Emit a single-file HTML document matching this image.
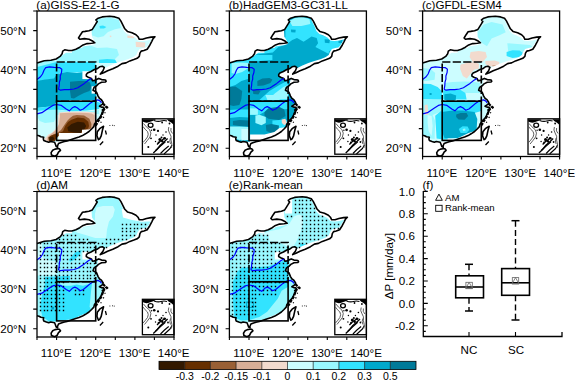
<!DOCTYPE html>
<html><head><meta charset="utf-8"><style>
html,body{margin:0;padding:0;background:#fff;}
svg{display:block;}
text{font-family:"Liberation Sans",sans-serif;font-size:11.6px;fill:#000;}
</style></head><body>
<svg width="575" height="380" viewBox="0 0 575 380">
<rect width="575" height="380" fill="#fff"/>
<defs>
<clipPath id="land"><polygon points="0.0,52.0 7.3,49.7 13.9,49.3 19.1,48.0 23.1,45.4 25.1,42.8 25.7,40.1 27.7,38.8 31.6,39.5 34.9,39.5 38.9,38.2 42.8,36.2 46.1,33.9 50.1,32.6 54.7,32.2 57.9,31.8 56.0,30.3 52.0,28.3 47.4,27.6 42.8,28.3 41.5,27.0 43.5,23.7 45.5,20.8 48.1,20.4 52.0,19.7 55.3,18.4 56.6,16.4 58.6,13.2 60.2,10.5 58.9,8.9 61.2,7.2 65.2,5.9 69.4,5.5 72.7,5.3 77.9,5.9 81.9,7.2 83.8,9.9 85.8,13.8 87.8,17.8 90.4,20.4 95.0,21.7 99.0,23.7 101.0,25.7 102.3,28.3 105.6,28.3 109.5,27.0 114.1,26.1 118.0,25.7 116.1,27.6 114.8,30.3 112.8,34.2 110.2,38.2 106.9,39.5 104.2,40.1 102.9,42.1 102.3,45.4 100.2,47.3 96.9,48.6 92.9,49.9 89.0,51.9 85.0,52.6 81.1,55.2 75.8,57.8 70.6,59.8 66.6,61.8 63.3,63.1 66.0,59.8 67.3,56.5 65.3,55.2 62.7,55.8 60.0,57.8 57.4,58.5 54.0,60.5 50.5,62.0 49.3,63.5 49.3,65.1 51.3,66.2 54.4,67.4 55.6,69.8 57.9,69.4 59.9,68.2 61.8,67.4 64.6,68.6 68.5,69.0 69.2,70.3 68.5,71.0 64.6,71.3 61.4,72.9 59.9,74.5 57.1,76.4 56.0,79.2 59.5,81.1 61.1,85.1 62.6,87.5 64.4,88.7 66.2,91.5 65.3,93.3 62.5,95.2 64.4,96.1 66.5,96.4 67.1,98.0 65.3,98.9 66.2,100.7 64.4,103.5 63.5,105.5 62.5,107.1 60.7,108.8 59.5,110.5 57.5,112.9 56.8,115.6 54.6,118.0 52.0,120.5 48.5,122.8 45.5,124.6 42.0,126.0 38.0,127.3 33.6,128.8 30.0,130.0 26.5,130.7 23.5,131.7 21.5,132.5 20.4,135.2 20.7,136.4 19.2,135.6 18.4,133.3 17.6,131.3 13.7,130.5 11.7,131.3 9.4,130.5 6.7,129.4 6.3,127.8 6.7,126.2 3.9,125.8 2.0,124.7 0.0,124.3"/></clipPath>
<pattern id="dots" patternUnits="userSpaceOnUse" x="2.49" y="0.62" width="3.914" height="3.92"><rect width="1.25" height="1.25" fill="#000"/></pattern>
<g id="coast" fill="none" stroke="#000" stroke-width="1.6" stroke-linejoin="round">
<polyline points="0.0,52.0 7.3,49.7 13.9,49.3 19.1,48.0 23.1,45.4 25.1,42.8 25.7,40.1 27.7,38.8 31.6,39.5 34.9,39.5 38.9,38.2 42.8,36.2 46.1,33.9 50.1,32.6 54.7,32.2 57.9,31.8 56.0,30.3 52.0,28.3 47.4,27.6 42.8,28.3 41.5,27.0 43.5,23.7 45.5,20.8 48.1,20.4 52.0,19.7 55.3,18.4 56.6,16.4 58.6,13.2 60.2,10.5 58.9,8.9 61.2,7.2 65.2,5.9 69.4,5.5 72.7,5.3 77.9,5.9 81.9,7.2 83.8,9.9 85.8,13.8 87.8,17.8 90.4,20.4 95.0,21.7 99.0,23.7 101.0,25.7 102.3,28.3 105.6,28.3 109.5,27.0 114.1,26.1 118.0,25.7 116.1,27.6 114.8,30.3 112.8,34.2 110.2,38.2 106.9,39.5 104.2,40.1 102.9,42.1 102.3,45.4 100.2,47.3 96.9,48.6 92.9,49.9 89.0,51.9 85.0,52.6 81.1,55.2 75.8,57.8 70.6,59.8 66.6,61.8 63.3,63.1 66.0,59.8 67.3,56.5 65.3,55.2 62.7,55.8 60.0,57.8 57.4,58.5 54.0,60.5 50.5,62.0 49.3,63.5 49.3,65.1 51.3,66.2 54.4,67.4 55.6,69.8 57.9,69.4 59.9,68.2 61.8,67.4 64.6,68.6 68.5,69.0 69.2,70.3 68.5,71.0 64.6,71.3 61.4,72.9 59.9,74.5 57.1,76.4 56.0,79.2 59.5,81.1 61.1,85.1 62.6,87.5 64.4,88.7 66.2,91.5 65.3,93.3 62.5,95.2 64.4,96.1 66.5,96.4 67.1,98.0 65.3,98.9 66.2,100.7 64.4,103.5 63.5,105.5 62.5,107.1 60.7,108.8 59.5,110.5 57.5,112.9 56.8,115.6 54.6,118.0 52.0,120.5 48.5,122.8 45.5,124.6 42.0,126.0 38.0,127.3 33.6,128.8 30.0,130.0 26.5,130.7 23.5,131.7 21.5,132.5 20.4,135.2 20.7,136.4 19.2,135.6 18.4,133.3 17.6,131.3 13.7,130.5 11.7,131.3 9.4,130.5 6.7,129.4 6.3,127.8 6.7,126.2 3.9,125.8 2.0,124.7 0.0,124.3"/>
<polygon points="14.1,141.6 14.5,144.0 17.6,145.2 20.0,144.0 21.5,141.2 23.5,139.3 22.3,137.7 20.4,137.7 18.0,138.1 15.7,139.3"/>
<polygon points="66.6,115.3 65.4,119.3 64.2,124.8 62.7,127.9 61.5,128.7 59.9,124.8 60.3,120.8 62.7,117.7 65.0,116.1"/>
<path d="M68.4,119.5 L69.4,123.5 M62.9,134 L66.2,130.5 M68,95.6 L70,96.8 M67.5,101.5 L68.5,102 M66,106 L67,106.8 M63.5,111 L64.5,111.5" stroke-width="1.3"/>
<path d="M72.5,114.5h0.8 M75,114.3h0.8 M76.8,114.6h0.8" stroke-width="1"/>
<path d="M66,92.5 L68.5,95.3 L70.3,96.4 L67.3,98 L65.6,101 L64.8,104.5 L63,107.5 L61.2,110.2 L59.7,113 L57.6,115.6" stroke-width="2.2" stroke-dasharray="3,1.2"/>
</g>
<g id="rivers" fill="none" stroke="#0000ff" stroke-width="1.2" stroke-linejoin="round">
<polyline points="0.0,68.5 3.2,66.1 5.5,63.0 7.1,59.0 8.7,56.6 12.6,55.8 17.4,56.3 22.5,56.6 24.8,58.3 24.5,61.5 23.3,65.0 23.3,68.2 22.4,71.2 22.2,74.6 21.6,78.2 23.5,79.2 27.4,78.7 32.0,78.6 37.0,78.0 40.8,76.8 42.7,75.6 47.4,72.4 51.3,69.3 54.5,67.4"/>
<polyline points="0.0,102.9 4.9,101.7 8.5,99.2 12.2,96.8 15.8,94.4 19.5,93.5 24.4,94.4 29.2,98.0 32.3,99.8 35.3,96.8 37.8,95.6 40.2,96.8 43.2,99.2 46.3,98.0 49.9,95.0 53.6,91.9 57.2,89.5 60.9,88.9 63.3,90.1 64.5,91.9"/>
</g>
<g id="inset">
<rect x="105.4" y="107.8" width="31.6" height="35.4" fill="#fff" stroke="#000" stroke-width="1.3"/>
<path d="M105.6,108.3 L105.6,110.5 Q108,112 111,111.5 Q114,110.5 117,109.6 L119,108.3 Z" fill="#000"/>
<path d="M130,108.3 L137,108.3 L137,114 Q134,111 131.5,110 Z" fill="#000"/>
<g fill="none" stroke="#000" stroke-width="1.1" stroke-linejoin="round">
<path d="M117,109.5 Q121,111 124,110 Q127,109 130,110"/>
<ellipse cx="113.6" cy="114.2" rx="2.4" ry="2.1" stroke-width="1.3"/>
<path d="M116.3,142 L120,138.5 L123.5,134 L127,131 L130.6,127.5" stroke-width="1.3"/>
<path d="M118.5,139.5 L123,135.5 L128.4,130.8"/>
<path d="M123.5,142.5 L127.5,138.5 L131.7,135"/>
<path d="M120,133.5 L123,130.5 L126.2,128.2 L129,127" stroke-width="1.3"/>
<path d="M127,143 L133,137.5 L135,134"/>
</g>
<g fill="none" stroke="#444" stroke-width="0.85">
<path d="M106.5,112.5 Q109,116 112.5,118.5 Q115,122 113,126 Q110,130 107.5,133"/>
<path d="M106,115.5 Q108,118.5 110.5,120.5 Q112,123 110.5,126 Q108,129.5 106,131.5"/>
<path d="M131.8,116 Q130.5,119 132.5,122 Q134.8,125 134,129 Q135.5,133 134.5,137"/>
<path d="M134,117 Q133,120 135.5,122.5 M133.5,127 Q132,130 133.5,133"/>
</g>
<g fill="#000">
<circle cx="117.2" cy="118.8" r="1.3"/>
<circle cx="121" cy="119.9" r="1.1"/>
<circle cx="125.1" cy="111.5" r="0.9"/>
<circle cx="114" cy="127.3" r="0.9"/>
<circle cx="111.3" cy="136" r="1.0"/>
<circle cx="122.9" cy="128.4" r="1.5"/>
<circle cx="125.3" cy="130.2" r="1.2"/>
<circle cx="127.5" cy="127.3" r="1.3"/>
<circle cx="119" cy="124" r="0.7"/>
<circle cx="129" cy="121" r="0.8"/>
<circle cx="131" cy="131" r="0.9"/>
<circle cx="114.5" cy="119.2" r="0.7"/>
<circle cx="124.5" cy="126.5" r="1.0"/>
<circle cx="121.5" cy="131.5" r="0.9"/>
<circle cx="118.5" cy="130.5" r="0.7"/>
<circle cx="126" cy="124" r="0.7"/>
<circle cx="132.5" cy="112.5" r="0.9"/>
</g>
</g>
<g id="maskN" fill="#fff"><polygon points="0,40 12,49.5 19,48.5 25,44.5 29,41.7 35,41.7 35.5,37.5 45,37 46,35.5 53.7,34.3 58.5,33 57,29 55,26 54.6,20 56,14 50,10 40,15 20,30"/>
<polygon points="80,4 86,10 87.5,15 89.5,18.5 92,20.5 96,22 100,24.5 102,27 106,27 110,26 114,25.2 119,24.5 119,27.5 114,28.5 110,29.5 105,30 101,29.5 98,26.5 94,24.5 90,23 87,20 85,15 82,9"/>
<polygon points="62,62.5 67,57.5 73,54.5 79,52 85,50 91,48.3 96,46.3 99.3,44 100.5,41 102.5,38 106,37 109,36.5 111,34.5 113,31 115.5,28 120,27 125,27 125,75 60,75"/>
<polygon points="15.5,131 22.5,130.5 23,138 15.5,138"/></g>
</defs>
<g transform="translate(37,11)">
<g clip-path="url(#land)"><rect fill="#ccfdff" x="0" y="0" width="137" height="146"/>
<polygon fill="#99f8ff" points="55,11 62,8 72,6.5 82,9 84,17 78,18.3 71,21 66.6,25.3 61,26.6 54,24 53,18"/>
<polygon fill="#32e3ff" points="62.5,15 66,14.6 69.4,16 67,17.6 63,17.4"/>
<polygon fill="#99f8ff" points="22,44 32,40 43,35.5 52,34 60,37 70,36.5 80,38 82,44 78,48 70,51 60,52 45,51 30,51 20,50"/>
<polygon fill="#32e3ff" points="62,48.7 70,48 78,48.5 80,52 62,52"/>
<polygon fill="#f2dacd" points="90.3,24.6 97.2,25 97,27.3 90.5,27"/>
<polygon fill="#f2dacd" points="98.6,30.8 108.4,31.5 108,36.4 99,36"/>
<polygon fill="#f2dacd" points="72.8,24.6 74.4,24.8 74.2,26.2 72.8,26"/>
<polygon fill="#99f8ff" points="0,52 8,50 20,50 20,56 8,57 0,58"/>
<polygon fill="#32e3ff" points="0,56 8,54 19.7,51 58,51 60,58 58,61 40,61.5 22,62 20,66 17,68 8,69 0,71"/>
<polygon fill="#00a9cc" points="0,70 8,68.5 17,67.5 20,63 30,61 40,62 50,60.5 58,61.5 60,70 59,89 40,89 20,90 17,95.6 8,96 0,97"/>
<polygon fill="#007a99" points="33,70.7 42,70 50,70 53,71.5 54.5,76 52.5,80 47,82 42,84.5 37,87.5 34,87 33,80"/>
<polygon fill="#32e3ff" points="0,97 8,96 17,95 20,90.5 40,90 58,90 64,92 62,98 50,99.5 35,100.5 25,99 15,99 0,101"/>
<polygon fill="#99f8ff" points="0,100 10,99 20,98.5 30,100 40,100.5 55,100 62,99 62,103 40,103 20,104 17,111 8,112 2.6,110 0,105"/>
<polygon fill="#f2dacd" points="21.8,101.4 30,100.8 40,100.6 50,100.8 55.5,101.2 58.7,101.5 58.7,120 45,122 22,123 17,126 13,131 8,131 7,128 9.2,126 11.3,123.5 15.5,121.4 20.8,115 21,108"/>
<polygon fill="#d8af97" points="22.9,102.2 32,101.8 42,101.8 50,102 54.5,102.5 57.5,104 57.5,118 45,121.5 25,122.5 19,125.5 15,130 10,130 10.5,126 14,123 19,119 22,113 23,106"/>
<polygon fill="#996035" points="28,113 30.5,109.5 33,107 36,104.8 39.7,104 47.1,104.5 52.4,107.7 54.5,113 54,118 45,121.5 26,123 22,124.5 19,128 13,130 12,126.5 16,123.5 20,122 24,119"/>
<polygon fill="#662f00" points="26,120.3 28.2,115 31,111 34.5,108.7 40.8,106.6 47.1,107.2 51.3,110.8 52,115 51.3,117.2 45,121.4 36.6,122.4 29.2,122.4 24,123.5 20,126 18,130 12,130.5 11.3,126.5 14,124.5 19,123 23,121.5"/>
<polygon fill="#331900" points="30.3,116.6 34.5,113 40.8,110.8 47.1,111.4 49.2,115 47.1,118.7 45,119.3 43.9,121.9 36.6,121.6 31.3,120.3"/>
<polygon fill="#331900" points="12.5,126.5 16,125.5 17.5,128 15,130 12.5,129.5"/>
<polygon fill="#99f8ff" points="11.3,100.3 18.7,100.6 18.7,107.7 13,107 11,104"/>
<polygon fill="#fff" points="21.8,121.9 45,121.9 45,118.7 52,118.5 57.6,116 59,130 21.8,131"/>
<rect fill="#fff" x="45.4" y="60.2" width="10" height="7.9"/>
<rect fill="#fff" x="54.6" y="75.3" width="5" height="7.3"/><use href="#maskN"/></g>

<use href="#coast"/>
<use href="#rivers"/>
<rect x="19.6" y="51" width="39.1" height="39.2" fill="none" stroke="#000" stroke-width="1.6" stroke-dasharray="8.2,2.3"/>
<rect x="19.6" y="90.2" width="39.1" height="39.2" fill="none" stroke="#000" stroke-width="1.6"/>
<use href="#inset"/>
<rect x="0" y="0" width="137" height="145.5" fill="none" stroke="#000" stroke-width="1.3"/>
<path d="M0,0.0h-3.8 M0.0,145.5v3 M0,19.6h-3.8 M19.6,145.5v3 M0,39.2h-3.8 M39.1,145.5v3 M0,58.8h-3.8 M58.7,145.5v3 M0,78.4h-3.8 M78.3,145.5v3 M0,98.0h-3.8 M97.9,145.5v3 M0,117.6h-3.8 M117.4,145.5v3 M0,137.2h-3.8 M137.0,145.5v3" stroke="#000" stroke-width="1.1" fill="none"/>
<text x="-10.9" y="23.5" text-anchor="end">50°N</text>
<text x="-10.9" y="62.7" text-anchor="end">40°N</text>
<text x="-10.9" y="101.9" text-anchor="end">30°N</text>
<text x="-10.9" y="141.1" text-anchor="end">20°N</text>
<text x="19.3" y="165.6" text-anchor="middle">110°E</text>
<text x="58.4" y="165.6" text-anchor="middle">120°E</text>
<text x="97.6" y="165.6" text-anchor="middle">130°E</text>
<text x="136.7" y="165.6" text-anchor="middle">140°E</text>
<text x="-0.7" y="-2.15">(a)GISS-E2-1-G</text>
</g>
<g transform="translate(229.4,11)">
<g clip-path="url(#land)"><rect fill="#00a9cc" x="0" y="0" width="137" height="146"/>
<polygon fill="#32e3ff" points="40,34 50,30 56,26 56,14 60,10 66,6 72,5.5 80,7 84,12 88,20 92,24 100,27 104,28 112,27 118,26 116,34 108,37.4 100,40 99,42.7 91.3,38.7 86,36.1 88.7,32.2 87.3,26.9 82.1,25.6 78.1,28.2 74.2,30.8 67.6,26.9 62.9,29 56,34 49,36 43.4,41.5 26,43.4 20,45 20,40 30,38"/>
<polygon fill="#99f8ff" points="60,10 66,7 72,6 80,8 81,13 72,15 63,15"/>
<polygon fill="#00a9cc" points="61.5,18.6 66.3,18.8 66,21.4 61.8,21.2"/>
<polygon fill="#00a9cc" points="95.2,28.2 100.5,28.6 100,32.2 95.5,31.8"/>
<polygon fill="#00a9cc" points="109,28.9 113,29 112.6,32.2 109.2,32"/>
<polygon fill="#32e3ff" points="0,52 10,49.5 21,44 43,44 43,49 30,50 20,52 20,60 19.3,67.7 12,70 6,74 0,76"/>
<polygon fill="#99f8ff" points="2.2,52 12,51.5 19.3,52 19.3,57 12.8,61 6,63 2.2,62"/>
<polygon fill="#007a99" points="27.9,70 33,67.5 40,67 43,68.5 41,72 34,74.5 28,75"/>
<polygon fill="#007a99" points="23.3,79 28,78.2 31.2,80 29,83.5 24,83"/>
<polygon fill="#007a99" points="0,76 6,75.6 12.8,80 12,88 10,94 4,95 0,94"/>
<polygon fill="#32e3ff" points="30,89 40,80 50,74 57.5,70 58.7,73 58.7,89"/>
<polygon fill="#99f8ff" points="38,89 46,82 54,76 58.7,74 58.7,88"/>
<polygon fill="#007a99" points="2.2,84 10.1,84 11,88 10.1,91.9 4,92 2.2,89"/>
<polygon fill="#32e3ff" points="0,99 8,98.5 19.6,98.5 19.6,106.4 10,106 0,107"/>
<polygon fill="#007a99" points="3.5,110 10,109 19.6,109.5 19.6,115.6 10,115 3.5,114"/>
<polygon fill="#99f8ff" points="0,115.6 10,115.6 19.6,116 19.6,128 10,129 0,126"/>
<polygon fill="#ccfdff" points="12,118 19.6,118 19.6,129 12,129.5"/>
<polygon fill="#32e3ff" points="19.6,91 58.7,90 58.7,98 45,99 35,101 30,103.7 25,104 19.6,104"/>
<polygon fill="#99f8ff" points="20.7,97.2 28.5,97.5 28.5,103.7 20.7,103.7"/>
<polygon fill="#007a99" points="35.1,101.1 39,97.2 49.6,95.8 54.9,98.5 56.2,105 49.6,109 39,107.7 35.1,105"/>
<polygon fill="#99f8ff" points="26,104.5 30,103.7 36.4,106 36.4,112 32,114.3 26,112"/>
<polygon fill="#32e3ff" points="43,109.5 50,109 57.5,109 57.5,118 50,118 43,115"/>
<polygon fill="#007a99" points="36.4,114 42,113 49.6,114.5 49,121 42,122 37,120"/>
<polygon fill="#99f8ff" points="36,84 52,84 50,89 38,89"/>
<polygon fill="#f2dacd" points="52.2,108.5 56,107.7 57.5,112 55,114.3 52.5,112"/>
<polygon fill="#fff" points="20.7,123.5 35,123.5 45,121 50,117 58.7,116 60,130 20.7,131"/><use href="#maskN"/></g>

<use href="#coast"/>
<use href="#rivers"/>
<rect x="19.6" y="51" width="39.1" height="39.2" fill="none" stroke="#000" stroke-width="1.6" stroke-dasharray="8.2,2.3"/>
<rect x="19.6" y="90.2" width="39.1" height="39.2" fill="none" stroke="#000" stroke-width="1.6"/>
<use href="#inset"/>
<rect x="0" y="0" width="137" height="145.5" fill="none" stroke="#000" stroke-width="1.3"/>
<path d="M0,0.0h-3.8 M0.0,145.5v3 M0,19.6h-3.8 M19.6,145.5v3 M0,39.2h-3.8 M39.1,145.5v3 M0,58.8h-3.8 M58.7,145.5v3 M0,78.4h-3.8 M78.3,145.5v3 M0,98.0h-3.8 M97.9,145.5v3 M0,117.6h-3.8 M117.4,145.5v3 M0,137.2h-3.8 M137.0,145.5v3" stroke="#000" stroke-width="1.1" fill="none"/>
<text x="-10.9" y="23.5" text-anchor="end">50°N</text>
<text x="-10.9" y="62.7" text-anchor="end">40°N</text>
<text x="-10.9" y="101.9" text-anchor="end">30°N</text>
<text x="-10.9" y="141.1" text-anchor="end">20°N</text>
<text x="19.3" y="165.6" text-anchor="middle">110°E</text>
<text x="58.4" y="165.6" text-anchor="middle">120°E</text>
<text x="97.6" y="165.6" text-anchor="middle">130°E</text>
<text x="136.7" y="165.6" text-anchor="middle">140°E</text>
<text x="-0.7" y="-2.15">(b)HadGEM3-GC31-LL</text>
</g>
<g transform="translate(422.6,11)">
<g clip-path="url(#land)"><rect fill="#ccfdff" x="0" y="0" width="137" height="146"/>
<polygon fill="#99f8ff" points="55,21.2 61.2,13.4 69,11 80,13.4 83.1,21.2 76.9,24.3 69,27.5 64.4,35.3 59.7,32.2 55,25.9"/>
<polygon fill="#99f8ff" points="84.7,32.2 95,33 107.4,34 112,37 107.4,44.7 95,46 86,44"/>
<polygon fill="#32e3ff" points="84,41 90,39.2 97,39.5 100.3,42 98,46 90,47 84,45"/>
<polygon fill="#f2dacd" points="48,41 56,40 63,41 64.4,46 60,51 50,51 47,46"/>
<polygon fill="#f2dacd" points="37.7,54 45,51.5 53,51 56.5,53 56,58 46,59 38,58.5"/>
<polygon fill="#f2dacd" points="62.8,50 72,49.4 76.9,51 76,55.6 66,55.6 62.8,53"/>
<polygon fill="#d8af97" points="69.8,54 73.7,54 73.5,55.6 70,55.6"/>
<polygon fill="#f2dacd" points="38.6,53.5 51.5,52.5 54.2,56 49.5,61 44.2,67.4 40.2,65 37.6,58"/>
<polygon fill="#99f8ff" points="0,57 8,58 12.6,62 12,68.7 4,70 0,70"/>
<polygon fill="#99f8ff" points="21.8,72 30,71 42,70.5 52,71 57.3,72 57.3,82 42.8,82 21.8,82"/>
<polygon fill="#32e3ff" points="0,72.7 8,73 15,76 19.1,80 20,88.5 10,88.5 0,88"/>
<polygon fill="#32e3ff" points="20.5,79.3 30,78.5 38,79 42.8,82 44,88.5 20.5,88.5"/>
<polygon fill="#00a9cc" points="21.8,83.2 28,82.5 33.6,84.5 33,89.8 21.8,89.8"/>
<polygon fill="#00a9cc" points="7,82 9,82 9,84 7,84"/>
<polygon fill="#99f8ff" points="0,88 20,89 58.7,90 58.7,99 20,100 10,104 0,104"/>
<polygon fill="#f2dacd" points="2,94 5,93.5 6,106 2.5,106"/>
<polygon fill="#99f8ff" points="0,104 10,104 12.6,110 12,128 5,127 0,124"/>
<polygon fill="#ccfdff" points="5,104 9,105 10,115 9,125 6,120 5,112"/>
<polygon fill="#32e3ff" points="12.6,104.8 19.6,99 19.6,90 58.7,90 58.7,100 52,102 54.7,127 20.5,128.5 14,127.5"/>
<polygon fill="#00a9cc" points="19.1,101 30,99.5 40,99.5 52,101 54.7,108 54,118 48,124 35,127 22,127.2 19.1,120"/>
<polygon fill="#007a99" points="33.6,103.5 38,102 44,102 45.5,105 42,108.7 36,108.5 33.6,106"/>
<polygon fill="#32e3ff" points="36.2,118 40,115.3 45,115.5 46.8,119 44,122 38,122"/>
<polygon fill="#99f8ff" points="40,118 42.5,117.5 43,119.5 40.5,120"/>
<polygon fill="#fff" points="25,127.5 35,127.2 46,122 58.7,118 60,130 25,131"/><use href="#maskN"/></g>

<use href="#coast"/>
<use href="#rivers"/>
<rect x="19.6" y="51" width="39.1" height="39.2" fill="none" stroke="#000" stroke-width="1.6" stroke-dasharray="8.2,2.3"/>
<rect x="19.6" y="90.2" width="39.1" height="39.2" fill="none" stroke="#000" stroke-width="1.6"/>
<use href="#inset"/>
<rect x="0" y="0" width="137" height="145.5" fill="none" stroke="#000" stroke-width="1.3"/>
<path d="M0,0.0h-3.8 M0.0,145.5v3 M0,19.6h-3.8 M19.6,145.5v3 M0,39.2h-3.8 M39.1,145.5v3 M0,58.8h-3.8 M58.7,145.5v3 M0,78.4h-3.8 M78.3,145.5v3 M0,98.0h-3.8 M97.9,145.5v3 M0,117.6h-3.8 M117.4,145.5v3 M0,137.2h-3.8 M137.0,145.5v3" stroke="#000" stroke-width="1.1" fill="none"/>
<text x="-10.9" y="23.5" text-anchor="end">50°N</text>
<text x="-10.9" y="62.7" text-anchor="end">40°N</text>
<text x="-10.9" y="101.9" text-anchor="end">30°N</text>
<text x="-10.9" y="141.1" text-anchor="end">20°N</text>
<text x="19.3" y="165.6" text-anchor="middle">110°E</text>
<text x="58.4" y="165.6" text-anchor="middle">120°E</text>
<text x="97.6" y="165.6" text-anchor="middle">130°E</text>
<text x="136.7" y="165.6" text-anchor="middle">140°E</text>
<text x="-0.7" y="-2.15">(c)GFDL-ESM4</text>
</g>
<g transform="translate(37,191.5)">
<g clip-path="url(#land)"><rect fill="#99f8ff" x="0" y="0" width="137" height="146"/>
<polygon fill="#ccfdff" points="59.7,16 66,14.5 76,14.5 77.8,18 76,25 72,30 70,38 69.2,46.5 58.2,46.5 48.5,43.5 40,41 38,40 45,36 54.5,34.5 58,28 58,22"/>
<polygon fill="#ccfdff" points="0,52 5,52 6,66 12,69 19.7,70 19.7,83 10,84 0,84"/>
<polygon fill="#32e3ff" points="7.9,85.6 19.7,85 32.9,84.3 32.9,89.6 19.7,90 7.9,93.5"/>
<polygon fill="#32e3ff" points="32,68 38,61 44.7,58.5 43,63 37,68.5 33,70.3"/>
<polygon fill="#32e3ff" points="5.3,102 7.9,93 15.8,90.3 22,92 26.3,94.3 34.2,94.3 39.5,93 46,94.3 50,93 55,91.7 54,100 52.6,115.3 55.3,121 50,128.8 20,129.5 12,130 8,127 5.3,124.8 3,115"/>
<polygon fill="#00a9cc" points="14.5,115.3 17.1,115.3 17.1,118 14.5,118"/>
<polygon fill="#fff" points="22,129 35,128 46,123 58.7,118 60,131 22,132"/>
<polygon fill="#fff" points="84.7,17.4 90,18 101.4,24 104,27 110,27 118,25 118,30 104,30 95,28.5 86,26"/>
<polygon fill="#fff" points="45.4,60.2 55.4,60.2 55.4,68.10000000000001 45.4,68.10000000000001"/>


<use href="#maskN"/></g>
<path fill="#000" d="M2.80,51.30h1.4v1.4h-1.4zM2.80,55.30h1.4v1.4h-1.4zM2.80,59.30h1.4v1.4h-1.4zM2.80,63.30h1.4v1.4h-1.4zM2.80,67.30h1.4v1.4h-1.4zM2.80,71.30h1.4v1.4h-1.4zM2.80,75.30h1.4v1.4h-1.4zM2.80,79.30h1.4v1.4h-1.4zM2.80,83.30h1.4v1.4h-1.4zM2.80,86.30h1.4v1.4h-1.4zM2.80,90.30h1.4v1.4h-1.4zM2.80,94.30h1.4v1.4h-1.4zM2.80,98.30h1.4v1.4h-1.4zM2.80,102.30h1.4v1.4h-1.4zM2.80,106.30h1.4v1.4h-1.4zM2.80,110.30h1.4v1.4h-1.4zM2.80,114.30h1.4v1.4h-1.4zM2.80,118.30h1.4v1.4h-1.4zM6.80,51.30h1.4v1.4h-1.4zM6.80,55.30h1.4v1.4h-1.4zM6.80,59.30h1.4v1.4h-1.4zM6.80,63.30h1.4v1.4h-1.4zM6.80,67.30h1.4v1.4h-1.4zM6.80,71.30h1.4v1.4h-1.4zM6.80,75.30h1.4v1.4h-1.4zM6.80,79.30h1.4v1.4h-1.4zM6.80,83.30h1.4v1.4h-1.4zM6.80,86.30h1.4v1.4h-1.4zM6.80,90.30h1.4v1.4h-1.4zM6.80,94.30h1.4v1.4h-1.4zM6.80,98.30h1.4v1.4h-1.4zM6.80,102.30h1.4v1.4h-1.4zM6.80,106.30h1.4v1.4h-1.4zM6.80,110.30h1.4v1.4h-1.4zM6.80,114.30h1.4v1.4h-1.4zM6.80,118.30h1.4v1.4h-1.4zM9.80,51.30h1.4v1.4h-1.4zM9.80,55.30h1.4v1.4h-1.4zM9.80,59.30h1.4v1.4h-1.4zM9.80,63.30h1.4v1.4h-1.4zM9.80,67.30h1.4v1.4h-1.4zM9.80,71.30h1.4v1.4h-1.4zM9.80,75.30h1.4v1.4h-1.4zM9.80,79.30h1.4v1.4h-1.4zM9.80,83.30h1.4v1.4h-1.4zM9.80,86.30h1.4v1.4h-1.4zM9.80,90.30h1.4v1.4h-1.4zM9.80,94.30h1.4v1.4h-1.4zM9.80,98.30h1.4v1.4h-1.4zM9.80,102.30h1.4v1.4h-1.4zM9.80,106.30h1.4v1.4h-1.4zM9.80,110.30h1.4v1.4h-1.4zM9.80,114.30h1.4v1.4h-1.4zM9.80,118.30h1.4v1.4h-1.4zM13.80,51.30h1.4v1.4h-1.4zM13.80,55.30h1.4v1.4h-1.4zM13.80,59.30h1.4v1.4h-1.4zM13.80,63.30h1.4v1.4h-1.4zM13.80,67.30h1.4v1.4h-1.4zM13.80,71.30h1.4v1.4h-1.4zM13.80,75.30h1.4v1.4h-1.4zM13.80,79.30h1.4v1.4h-1.4zM13.80,83.30h1.4v1.4h-1.4zM13.80,86.30h1.4v1.4h-1.4zM13.80,90.30h1.4v1.4h-1.4zM13.80,94.30h1.4v1.4h-1.4zM13.80,98.30h1.4v1.4h-1.4zM13.80,102.30h1.4v1.4h-1.4zM13.80,106.30h1.4v1.4h-1.4zM13.80,110.30h1.4v1.4h-1.4zM13.80,114.30h1.4v1.4h-1.4zM13.80,118.30h1.4v1.4h-1.4zM17.80,51.30h1.4v1.4h-1.4zM17.80,55.30h1.4v1.4h-1.4zM17.80,59.30h1.4v1.4h-1.4zM17.80,63.30h1.4v1.4h-1.4zM17.80,67.30h1.4v1.4h-1.4zM17.80,71.30h1.4v1.4h-1.4zM17.80,75.30h1.4v1.4h-1.4zM17.80,79.30h1.4v1.4h-1.4zM17.80,83.30h1.4v1.4h-1.4zM17.80,86.30h1.4v1.4h-1.4zM17.80,90.30h1.4v1.4h-1.4zM17.80,94.30h1.4v1.4h-1.4zM17.80,98.30h1.4v1.4h-1.4zM17.80,102.30h1.4v1.4h-1.4zM17.80,106.30h1.4v1.4h-1.4zM17.80,110.30h1.4v1.4h-1.4zM17.80,114.30h1.4v1.4h-1.4zM17.80,118.30h1.4v1.4h-1.4zM21.80,47.30h1.4v1.4h-1.4zM21.80,51.30h1.4v1.4h-1.4zM21.80,55.30h1.4v1.4h-1.4zM21.80,59.30h1.4v1.4h-1.4zM21.80,63.30h1.4v1.4h-1.4zM21.80,67.30h1.4v1.4h-1.4zM21.80,71.30h1.4v1.4h-1.4zM21.80,75.30h1.4v1.4h-1.4zM21.80,79.30h1.4v1.4h-1.4zM21.80,83.30h1.4v1.4h-1.4zM21.80,86.30h1.4v1.4h-1.4zM21.80,90.30h1.4v1.4h-1.4zM21.80,94.30h1.4v1.4h-1.4zM21.80,98.30h1.4v1.4h-1.4zM21.80,102.30h1.4v1.4h-1.4zM21.80,106.30h1.4v1.4h-1.4zM21.80,110.30h1.4v1.4h-1.4zM21.80,114.30h1.4v1.4h-1.4zM21.80,118.30h1.4v1.4h-1.4zM25.80,43.30h1.4v1.4h-1.4zM25.80,47.30h1.4v1.4h-1.4zM25.80,51.30h1.4v1.4h-1.4zM25.80,55.30h1.4v1.4h-1.4zM25.80,59.30h1.4v1.4h-1.4zM25.80,63.30h1.4v1.4h-1.4zM25.80,67.30h1.4v1.4h-1.4zM25.80,71.30h1.4v1.4h-1.4zM25.80,75.30h1.4v1.4h-1.4zM25.80,79.30h1.4v1.4h-1.4zM25.80,83.30h1.4v1.4h-1.4zM25.80,86.30h1.4v1.4h-1.4zM25.80,90.30h1.4v1.4h-1.4zM25.80,94.30h1.4v1.4h-1.4zM25.80,98.30h1.4v1.4h-1.4zM25.80,102.30h1.4v1.4h-1.4zM25.80,106.30h1.4v1.4h-1.4zM25.80,110.30h1.4v1.4h-1.4zM25.80,114.30h1.4v1.4h-1.4zM25.80,118.30h1.4v1.4h-1.4zM29.80,43.30h1.4v1.4h-1.4zM29.80,47.30h1.4v1.4h-1.4zM29.80,51.30h1.4v1.4h-1.4zM29.80,55.30h1.4v1.4h-1.4zM29.80,59.30h1.4v1.4h-1.4zM29.80,63.30h1.4v1.4h-1.4zM29.80,67.30h1.4v1.4h-1.4zM29.80,71.30h1.4v1.4h-1.4zM29.80,75.30h1.4v1.4h-1.4zM29.80,79.30h1.4v1.4h-1.4zM29.80,83.30h1.4v1.4h-1.4zM29.80,86.30h1.4v1.4h-1.4zM33.80,43.30h1.4v1.4h-1.4zM33.80,47.30h1.4v1.4h-1.4zM33.80,51.30h1.4v1.4h-1.4zM33.80,55.30h1.4v1.4h-1.4zM33.80,59.30h1.4v1.4h-1.4zM33.80,63.30h1.4v1.4h-1.4zM33.80,67.30h1.4v1.4h-1.4zM33.80,71.30h1.4v1.4h-1.4zM33.80,75.30h1.4v1.4h-1.4zM33.80,79.30h1.4v1.4h-1.4zM33.80,83.30h1.4v1.4h-1.4zM33.80,86.30h1.4v1.4h-1.4zM37.80,43.30h1.4v1.4h-1.4zM37.80,47.30h1.4v1.4h-1.4zM37.80,51.30h1.4v1.4h-1.4zM37.80,55.30h1.4v1.4h-1.4zM37.80,59.30h1.4v1.4h-1.4zM37.80,63.30h1.4v1.4h-1.4zM37.80,67.30h1.4v1.4h-1.4zM37.80,71.30h1.4v1.4h-1.4zM37.80,75.30h1.4v1.4h-1.4zM37.80,79.30h1.4v1.4h-1.4zM37.80,83.30h1.4v1.4h-1.4zM37.80,86.30h1.4v1.4h-1.4zM37.80,98.30h1.4v1.4h-1.4zM37.80,102.30h1.4v1.4h-1.4zM41.80,47.30h1.4v1.4h-1.4zM41.80,51.30h1.4v1.4h-1.4zM41.80,55.30h1.4v1.4h-1.4zM41.80,59.30h1.4v1.4h-1.4zM41.80,63.30h1.4v1.4h-1.4zM41.80,67.30h1.4v1.4h-1.4zM41.80,71.30h1.4v1.4h-1.4zM41.80,75.30h1.4v1.4h-1.4zM41.80,79.30h1.4v1.4h-1.4zM41.80,83.30h1.4v1.4h-1.4zM41.80,86.30h1.4v1.4h-1.4zM41.80,98.30h1.4v1.4h-1.4zM41.80,102.30h1.4v1.4h-1.4zM45.80,47.30h1.4v1.4h-1.4zM45.80,51.30h1.4v1.4h-1.4zM45.80,55.30h1.4v1.4h-1.4zM45.80,59.30h1.4v1.4h-1.4zM45.80,71.30h1.4v1.4h-1.4zM45.80,75.30h1.4v1.4h-1.4zM45.80,79.30h1.4v1.4h-1.4zM45.80,83.30h1.4v1.4h-1.4zM45.80,86.30h1.4v1.4h-1.4zM45.80,98.30h1.4v1.4h-1.4zM45.80,102.30h1.4v1.4h-1.4zM49.80,47.30h1.4v1.4h-1.4zM49.80,51.30h1.4v1.4h-1.4zM49.80,55.30h1.4v1.4h-1.4zM49.80,59.30h1.4v1.4h-1.4zM49.80,71.30h1.4v1.4h-1.4zM49.80,75.30h1.4v1.4h-1.4zM49.80,79.30h1.4v1.4h-1.4zM49.80,83.30h1.4v1.4h-1.4zM49.80,86.30h1.4v1.4h-1.4zM52.80,51.30h1.4v1.4h-1.4zM52.80,55.30h1.4v1.4h-1.4zM52.80,71.30h1.4v1.4h-1.4zM52.80,75.30h1.4v1.4h-1.4zM52.80,79.30h1.4v1.4h-1.4zM52.80,83.30h1.4v1.4h-1.4zM52.80,86.30h1.4v1.4h-1.4zM56.80,51.30h1.4v1.4h-1.4zM56.80,55.30h1.4v1.4h-1.4zM56.80,71.30h1.4v1.4h-1.4zM56.80,83.30h1.4v1.4h-1.4zM56.80,86.30h1.4v1.4h-1.4zM60.80,51.30h1.4v1.4h-1.4zM64.80,51.30h1.4v1.4h-1.4zM68.80,47.30h1.4v1.4h-1.4zM68.80,51.30h1.4v1.4h-1.4zM68.80,55.30h1.4v1.4h-1.4zM72.80,47.30h1.4v1.4h-1.4zM72.80,51.30h1.4v1.4h-1.4zM76.80,47.30h1.4v1.4h-1.4zM76.80,51.30h1.4v1.4h-1.4zM80.80,47.30h1.4v1.4h-1.4zM84.80,32.30h1.4v1.4h-1.4zM84.80,36.30h1.4v1.4h-1.4zM84.80,39.30h1.4v1.4h-1.4zM84.80,43.30h1.4v1.4h-1.4zM84.80,47.30h1.4v1.4h-1.4zM88.80,32.30h1.4v1.4h-1.4zM88.80,36.30h1.4v1.4h-1.4zM88.80,39.30h1.4v1.4h-1.4zM88.80,43.30h1.4v1.4h-1.4zM88.80,47.30h1.4v1.4h-1.4zM92.80,32.30h1.4v1.4h-1.4zM92.80,36.30h1.4v1.4h-1.4zM92.80,39.30h1.4v1.4h-1.4zM92.80,43.30h1.4v1.4h-1.4zM96.80,32.30h1.4v1.4h-1.4zM96.80,36.30h1.4v1.4h-1.4zM96.80,39.30h1.4v1.4h-1.4zM96.80,43.30h1.4v1.4h-1.4zM99.80,32.30h1.4v1.4h-1.4zM99.80,36.30h1.4v1.4h-1.4zM103.80,32.30h1.4v1.4h-1.4zM103.80,36.30h1.4v1.4h-1.4zM107.80,32.30h1.4v1.4h-1.4zM107.80,36.30h1.4v1.4h-1.4z"/>
<use href="#coast"/>
<use href="#rivers"/>
<rect x="19.6" y="51" width="39.1" height="39.2" fill="none" stroke="#000" stroke-width="1.6" stroke-dasharray="8.2,2.3"/>
<rect x="19.6" y="90.2" width="39.1" height="39.2" fill="none" stroke="#000" stroke-width="1.6"/>
<use href="#inset"/>
<rect x="0" y="0" width="137" height="145.5" fill="none" stroke="#000" stroke-width="1.3"/>
<path d="M0,0.0h-3.8 M0.0,145.5v3 M0,19.6h-3.8 M19.6,145.5v3 M0,39.2h-3.8 M39.1,145.5v3 M0,58.8h-3.8 M58.7,145.5v3 M0,78.4h-3.8 M78.3,145.5v3 M0,98.0h-3.8 M97.9,145.5v3 M0,117.6h-3.8 M117.4,145.5v3 M0,137.2h-3.8 M137.0,145.5v3" stroke="#000" stroke-width="1.1" fill="none"/>
<text x="-10.9" y="23.5" text-anchor="end">50°N</text>
<text x="-10.9" y="62.7" text-anchor="end">40°N</text>
<text x="-10.9" y="101.9" text-anchor="end">30°N</text>
<text x="-10.9" y="141.1" text-anchor="end">20°N</text>
<text x="19.3" y="165.6" text-anchor="middle">110°E</text>
<text x="58.4" y="165.6" text-anchor="middle">120°E</text>
<text x="97.6" y="165.6" text-anchor="middle">130°E</text>
<text x="136.7" y="165.6" text-anchor="middle">140°E</text>
<text x="-0.7" y="-2.15">(d)AM</text>
</g>
<g transform="translate(229.4,191.5)">
<g clip-path="url(#land)"><rect fill="#99f8ff" x="0" y="0" width="137" height="146"/>
<polygon fill="#ccfdff" points="64.3,25.2 68,23.5 72.1,23.6 73.7,29.9 72.1,37.8 69,45.7 65.8,52 62.7,56.7 58,55 50,51 40,49.7 39,44 30,43 40.6,39.4 50,37.8 59.5,33"/>
<polygon fill="#fff" points="55.5,6.0 62.7,6.0 62.7,22.0 55.5,22.0"/>
<polygon fill="#32e3ff" points="70.6,52 76.9,52.5 76,56 71,56"/>
<polygon fill="#32e3ff" points="12.8,76 25,76 39,74.7 49.6,70.7 57.5,68 58.7,70 58.7,95.3 52.2,99.3 48.3,107.2 43,113.8 37.8,120.3 29.9,125.6 20.7,128.2 12,129 5,126 3.5,110 3.5,90 8,80"/>
<polygon fill="#00a9cc" points="16.7,110 24.6,110 24.6,116.4 16.7,116.4"/>
<polygon fill="#32e3ff" points="17.7,111 23.6,111 23.6,115.4 17.7,115.4"/>
<polygon fill="#fff" points="22,129.5 35,128 46,123 58.7,118 60,131 22,132"/>
<polygon fill="#fff" points="45.4,60.2 55.4,60.2 55.4,68.10000000000001 45.4,68.10000000000001"/>


<use href="#maskN"/></g>
<path fill="#000" d="M2.40,51.30h1.4v1.4h-1.4zM2.40,55.30h1.4v1.4h-1.4zM2.40,59.30h1.4v1.4h-1.4zM2.40,63.30h1.4v1.4h-1.4zM2.40,67.30h1.4v1.4h-1.4zM2.40,71.30h1.4v1.4h-1.4zM2.40,75.30h1.4v1.4h-1.4zM2.40,79.30h1.4v1.4h-1.4zM2.40,83.30h1.4v1.4h-1.4zM2.40,86.30h1.4v1.4h-1.4zM2.40,90.30h1.4v1.4h-1.4zM2.40,94.30h1.4v1.4h-1.4zM2.40,98.30h1.4v1.4h-1.4zM2.40,102.30h1.4v1.4h-1.4zM2.40,106.30h1.4v1.4h-1.4zM2.40,110.30h1.4v1.4h-1.4zM2.40,114.30h1.4v1.4h-1.4zM2.40,118.30h1.4v1.4h-1.4zM2.40,122.30h1.4v1.4h-1.4zM6.40,51.30h1.4v1.4h-1.4zM6.40,55.30h1.4v1.4h-1.4zM6.40,59.30h1.4v1.4h-1.4zM6.40,63.30h1.4v1.4h-1.4zM6.40,67.30h1.4v1.4h-1.4zM6.40,71.30h1.4v1.4h-1.4zM6.40,75.30h1.4v1.4h-1.4zM6.40,79.30h1.4v1.4h-1.4zM6.40,83.30h1.4v1.4h-1.4zM6.40,86.30h1.4v1.4h-1.4zM6.40,90.30h1.4v1.4h-1.4zM6.40,94.30h1.4v1.4h-1.4zM6.40,98.30h1.4v1.4h-1.4zM6.40,102.30h1.4v1.4h-1.4zM6.40,106.30h1.4v1.4h-1.4zM6.40,110.30h1.4v1.4h-1.4zM6.40,114.30h1.4v1.4h-1.4zM6.40,118.30h1.4v1.4h-1.4zM6.40,122.30h1.4v1.4h-1.4zM10.40,51.30h1.4v1.4h-1.4zM10.40,55.30h1.4v1.4h-1.4zM10.40,59.30h1.4v1.4h-1.4zM10.40,63.30h1.4v1.4h-1.4zM10.40,67.30h1.4v1.4h-1.4zM10.40,71.30h1.4v1.4h-1.4zM10.40,75.30h1.4v1.4h-1.4zM10.40,79.30h1.4v1.4h-1.4zM10.40,83.30h1.4v1.4h-1.4zM10.40,86.30h1.4v1.4h-1.4zM10.40,90.30h1.4v1.4h-1.4zM10.40,94.30h1.4v1.4h-1.4zM10.40,98.30h1.4v1.4h-1.4zM10.40,102.30h1.4v1.4h-1.4zM10.40,106.30h1.4v1.4h-1.4zM10.40,110.30h1.4v1.4h-1.4zM10.40,114.30h1.4v1.4h-1.4zM10.40,118.30h1.4v1.4h-1.4zM10.40,122.30h1.4v1.4h-1.4zM14.40,51.30h1.4v1.4h-1.4zM14.40,55.30h1.4v1.4h-1.4zM14.40,59.30h1.4v1.4h-1.4zM14.40,63.30h1.4v1.4h-1.4zM14.40,67.30h1.4v1.4h-1.4zM14.40,71.30h1.4v1.4h-1.4zM14.40,75.30h1.4v1.4h-1.4zM14.40,79.30h1.4v1.4h-1.4zM14.40,83.30h1.4v1.4h-1.4zM14.40,86.30h1.4v1.4h-1.4zM14.40,90.30h1.4v1.4h-1.4zM14.40,94.30h1.4v1.4h-1.4zM14.40,98.30h1.4v1.4h-1.4zM14.40,102.30h1.4v1.4h-1.4zM14.40,106.30h1.4v1.4h-1.4zM14.40,110.30h1.4v1.4h-1.4zM14.40,114.30h1.4v1.4h-1.4zM14.40,118.30h1.4v1.4h-1.4zM14.40,122.30h1.4v1.4h-1.4zM18.40,51.30h1.4v1.4h-1.4zM18.40,55.30h1.4v1.4h-1.4zM18.40,59.30h1.4v1.4h-1.4zM18.40,63.30h1.4v1.4h-1.4zM18.40,67.30h1.4v1.4h-1.4zM18.40,71.30h1.4v1.4h-1.4zM18.40,75.30h1.4v1.4h-1.4zM18.40,79.30h1.4v1.4h-1.4zM18.40,83.30h1.4v1.4h-1.4zM18.40,86.30h1.4v1.4h-1.4zM18.40,90.30h1.4v1.4h-1.4zM18.40,94.30h1.4v1.4h-1.4zM18.40,98.30h1.4v1.4h-1.4zM18.40,102.30h1.4v1.4h-1.4zM18.40,106.30h1.4v1.4h-1.4zM18.40,110.30h1.4v1.4h-1.4zM18.40,114.30h1.4v1.4h-1.4zM18.40,118.30h1.4v1.4h-1.4zM18.40,122.30h1.4v1.4h-1.4zM22.40,47.30h1.4v1.4h-1.4zM22.40,51.30h1.4v1.4h-1.4zM22.40,55.30h1.4v1.4h-1.4zM22.40,59.30h1.4v1.4h-1.4zM22.40,63.30h1.4v1.4h-1.4zM22.40,67.30h1.4v1.4h-1.4zM22.40,71.30h1.4v1.4h-1.4zM22.40,75.30h1.4v1.4h-1.4zM22.40,79.30h1.4v1.4h-1.4zM22.40,83.30h1.4v1.4h-1.4zM22.40,86.30h1.4v1.4h-1.4zM22.40,90.30h1.4v1.4h-1.4zM22.40,94.30h1.4v1.4h-1.4zM22.40,98.30h1.4v1.4h-1.4zM22.40,102.30h1.4v1.4h-1.4zM22.40,106.30h1.4v1.4h-1.4zM22.40,110.30h1.4v1.4h-1.4zM22.40,114.30h1.4v1.4h-1.4zM22.40,118.30h1.4v1.4h-1.4zM22.40,122.30h1.4v1.4h-1.4zM25.40,43.30h1.4v1.4h-1.4zM25.40,47.30h1.4v1.4h-1.4zM25.40,51.30h1.4v1.4h-1.4zM25.40,55.30h1.4v1.4h-1.4zM25.40,59.30h1.4v1.4h-1.4zM25.40,63.30h1.4v1.4h-1.4zM25.40,67.30h1.4v1.4h-1.4zM25.40,71.30h1.4v1.4h-1.4zM25.40,75.30h1.4v1.4h-1.4zM25.40,79.30h1.4v1.4h-1.4zM25.40,83.30h1.4v1.4h-1.4zM25.40,86.30h1.4v1.4h-1.4zM25.40,90.30h1.4v1.4h-1.4zM25.40,94.30h1.4v1.4h-1.4zM25.40,98.30h1.4v1.4h-1.4zM25.40,102.30h1.4v1.4h-1.4zM25.40,106.30h1.4v1.4h-1.4zM25.40,110.30h1.4v1.4h-1.4zM25.40,114.30h1.4v1.4h-1.4zM25.40,118.30h1.4v1.4h-1.4zM25.40,122.30h1.4v1.4h-1.4zM29.40,43.30h1.4v1.4h-1.4zM29.40,47.30h1.4v1.4h-1.4zM29.40,51.30h1.4v1.4h-1.4zM29.40,55.30h1.4v1.4h-1.4zM29.40,59.30h1.4v1.4h-1.4zM29.40,63.30h1.4v1.4h-1.4zM29.40,67.30h1.4v1.4h-1.4zM29.40,71.30h1.4v1.4h-1.4zM29.40,75.30h1.4v1.4h-1.4zM29.40,79.30h1.4v1.4h-1.4zM29.40,83.30h1.4v1.4h-1.4zM29.40,86.30h1.4v1.4h-1.4zM29.40,90.30h1.4v1.4h-1.4zM29.40,94.30h1.4v1.4h-1.4zM29.40,98.30h1.4v1.4h-1.4zM29.40,102.30h1.4v1.4h-1.4zM33.40,43.30h1.4v1.4h-1.4zM33.40,47.30h1.4v1.4h-1.4zM33.40,51.30h1.4v1.4h-1.4zM33.40,55.30h1.4v1.4h-1.4zM33.40,59.30h1.4v1.4h-1.4zM33.40,63.30h1.4v1.4h-1.4zM33.40,67.30h1.4v1.4h-1.4zM33.40,71.30h1.4v1.4h-1.4zM33.40,75.30h1.4v1.4h-1.4zM33.40,79.30h1.4v1.4h-1.4zM33.40,83.30h1.4v1.4h-1.4zM33.40,86.30h1.4v1.4h-1.4zM33.40,90.30h1.4v1.4h-1.4zM33.40,94.30h1.4v1.4h-1.4zM33.40,98.30h1.4v1.4h-1.4zM33.40,102.30h1.4v1.4h-1.4zM37.40,43.30h1.4v1.4h-1.4zM37.40,47.30h1.4v1.4h-1.4zM37.40,51.30h1.4v1.4h-1.4zM37.40,55.30h1.4v1.4h-1.4zM37.40,59.30h1.4v1.4h-1.4zM37.40,63.30h1.4v1.4h-1.4zM37.40,67.30h1.4v1.4h-1.4zM37.40,71.30h1.4v1.4h-1.4zM37.40,75.30h1.4v1.4h-1.4zM37.40,79.30h1.4v1.4h-1.4zM37.40,83.30h1.4v1.4h-1.4zM37.40,86.30h1.4v1.4h-1.4zM37.40,90.30h1.4v1.4h-1.4zM37.40,94.30h1.4v1.4h-1.4zM37.40,98.30h1.4v1.4h-1.4zM37.40,102.30h1.4v1.4h-1.4zM41.40,51.30h1.4v1.4h-1.4zM41.40,55.30h1.4v1.4h-1.4zM41.40,59.30h1.4v1.4h-1.4zM41.40,63.30h1.4v1.4h-1.4zM41.40,67.30h1.4v1.4h-1.4zM41.40,71.30h1.4v1.4h-1.4zM41.40,75.30h1.4v1.4h-1.4zM41.40,79.30h1.4v1.4h-1.4zM41.40,83.30h1.4v1.4h-1.4zM41.40,86.30h1.4v1.4h-1.4zM41.40,90.30h1.4v1.4h-1.4zM41.40,94.30h1.4v1.4h-1.4zM41.40,98.30h1.4v1.4h-1.4zM41.40,102.30h1.4v1.4h-1.4zM45.40,51.30h1.4v1.4h-1.4zM45.40,55.30h1.4v1.4h-1.4zM45.40,59.30h1.4v1.4h-1.4zM45.40,71.30h1.4v1.4h-1.4zM45.40,75.30h1.4v1.4h-1.4zM45.40,79.30h1.4v1.4h-1.4zM45.40,83.30h1.4v1.4h-1.4zM45.40,86.30h1.4v1.4h-1.4zM45.40,90.30h1.4v1.4h-1.4zM45.40,94.30h1.4v1.4h-1.4zM45.40,98.30h1.4v1.4h-1.4zM45.40,102.30h1.4v1.4h-1.4zM49.40,51.30h1.4v1.4h-1.4zM49.40,55.30h1.4v1.4h-1.4zM49.40,59.30h1.4v1.4h-1.4zM49.40,71.30h1.4v1.4h-1.4zM49.40,75.30h1.4v1.4h-1.4zM49.40,79.30h1.4v1.4h-1.4zM49.40,83.30h1.4v1.4h-1.4zM49.40,86.30h1.4v1.4h-1.4zM49.40,90.30h1.4v1.4h-1.4zM53.40,55.30h1.4v1.4h-1.4zM53.40,71.30h1.4v1.4h-1.4zM53.40,75.30h1.4v1.4h-1.4zM53.40,79.30h1.4v1.4h-1.4zM53.40,83.30h1.4v1.4h-1.4zM53.40,86.30h1.4v1.4h-1.4zM53.40,90.30h1.4v1.4h-1.4zM57.40,24.30h1.4v1.4h-1.4zM57.40,55.30h1.4v1.4h-1.4zM57.40,71.30h1.4v1.4h-1.4zM57.40,83.30h1.4v1.4h-1.4zM57.40,86.30h1.4v1.4h-1.4zM57.40,90.30h1.4v1.4h-1.4zM61.40,24.30h1.4v1.4h-1.4zM65.40,8.30h1.4v1.4h-1.4zM65.40,12.30h1.4v1.4h-1.4zM65.40,16.30h1.4v1.4h-1.4zM65.40,20.30h1.4v1.4h-1.4zM69.40,8.30h1.4v1.4h-1.4zM69.40,12.30h1.4v1.4h-1.4zM69.40,16.30h1.4v1.4h-1.4zM69.40,20.30h1.4v1.4h-1.4zM69.40,43.30h1.4v1.4h-1.4zM69.40,47.30h1.4v1.4h-1.4zM69.40,51.30h1.4v1.4h-1.4zM69.40,55.30h1.4v1.4h-1.4zM72.40,8.30h1.4v1.4h-1.4zM72.40,12.30h1.4v1.4h-1.4zM72.40,16.30h1.4v1.4h-1.4zM72.40,20.30h1.4v1.4h-1.4zM72.40,24.30h1.4v1.4h-1.4zM72.40,28.30h1.4v1.4h-1.4zM72.40,32.30h1.4v1.4h-1.4zM72.40,36.30h1.4v1.4h-1.4zM72.40,39.30h1.4v1.4h-1.4zM72.40,43.30h1.4v1.4h-1.4zM72.40,47.30h1.4v1.4h-1.4zM72.40,51.30h1.4v1.4h-1.4zM76.40,8.30h1.4v1.4h-1.4zM76.40,12.30h1.4v1.4h-1.4zM76.40,16.30h1.4v1.4h-1.4zM76.40,20.30h1.4v1.4h-1.4zM76.40,24.30h1.4v1.4h-1.4zM76.40,28.30h1.4v1.4h-1.4zM76.40,32.30h1.4v1.4h-1.4zM76.40,36.30h1.4v1.4h-1.4zM76.40,39.30h1.4v1.4h-1.4zM76.40,43.30h1.4v1.4h-1.4zM76.40,47.30h1.4v1.4h-1.4zM76.40,51.30h1.4v1.4h-1.4zM80.40,8.30h1.4v1.4h-1.4zM80.40,12.30h1.4v1.4h-1.4zM80.40,16.30h1.4v1.4h-1.4zM80.40,20.30h1.4v1.4h-1.4zM80.40,24.30h1.4v1.4h-1.4zM80.40,28.30h1.4v1.4h-1.4zM80.40,32.30h1.4v1.4h-1.4zM80.40,36.30h1.4v1.4h-1.4zM80.40,39.30h1.4v1.4h-1.4zM80.40,43.30h1.4v1.4h-1.4zM80.40,47.30h1.4v1.4h-1.4zM84.40,16.30h1.4v1.4h-1.4zM84.40,20.30h1.4v1.4h-1.4zM84.40,24.30h1.4v1.4h-1.4zM84.40,28.30h1.4v1.4h-1.4zM84.40,32.30h1.4v1.4h-1.4zM84.40,36.30h1.4v1.4h-1.4zM84.40,39.30h1.4v1.4h-1.4zM84.40,43.30h1.4v1.4h-1.4zM84.40,47.30h1.4v1.4h-1.4zM88.40,24.30h1.4v1.4h-1.4zM88.40,28.30h1.4v1.4h-1.4zM88.40,32.30h1.4v1.4h-1.4zM88.40,36.30h1.4v1.4h-1.4zM88.40,39.30h1.4v1.4h-1.4zM88.40,43.30h1.4v1.4h-1.4zM88.40,47.30h1.4v1.4h-1.4zM92.40,24.30h1.4v1.4h-1.4zM92.40,28.30h1.4v1.4h-1.4zM92.40,32.30h1.4v1.4h-1.4zM92.40,36.30h1.4v1.4h-1.4zM92.40,39.30h1.4v1.4h-1.4zM92.40,43.30h1.4v1.4h-1.4zM96.40,28.30h1.4v1.4h-1.4zM96.40,32.30h1.4v1.4h-1.4zM96.40,36.30h1.4v1.4h-1.4zM96.40,39.30h1.4v1.4h-1.4zM96.40,43.30h1.4v1.4h-1.4zM100.40,32.30h1.4v1.4h-1.4zM100.40,36.30h1.4v1.4h-1.4zM104.40,32.30h1.4v1.4h-1.4zM104.40,36.30h1.4v1.4h-1.4zM108.40,32.30h1.4v1.4h-1.4zM108.40,36.30h1.4v1.4h-1.4z"/>
<use href="#coast"/>
<use href="#rivers"/>
<rect x="19.6" y="51" width="39.1" height="39.2" fill="none" stroke="#000" stroke-width="1.6" stroke-dasharray="8.2,2.3"/>
<rect x="19.6" y="90.2" width="39.1" height="39.2" fill="none" stroke="#000" stroke-width="1.6"/>
<use href="#inset"/>
<rect x="0" y="0" width="137" height="145.5" fill="none" stroke="#000" stroke-width="1.3"/>
<path d="M0,0.0h-3.8 M0.0,145.5v3 M0,19.6h-3.8 M19.6,145.5v3 M0,39.2h-3.8 M39.1,145.5v3 M0,58.8h-3.8 M58.7,145.5v3 M0,78.4h-3.8 M78.3,145.5v3 M0,98.0h-3.8 M97.9,145.5v3 M0,117.6h-3.8 M117.4,145.5v3 M0,137.2h-3.8 M137.0,145.5v3" stroke="#000" stroke-width="1.1" fill="none"/>
<text x="-10.9" y="23.5" text-anchor="end">50°N</text>
<text x="-10.9" y="62.7" text-anchor="end">40°N</text>
<text x="-10.9" y="101.9" text-anchor="end">30°N</text>
<text x="-10.9" y="141.1" text-anchor="end">20°N</text>
<text x="19.3" y="165.6" text-anchor="middle">110°E</text>
<text x="58.4" y="165.6" text-anchor="middle">120°E</text>
<text x="97.6" y="165.6" text-anchor="middle">130°E</text>
<text x="136.7" y="165.6" text-anchor="middle">140°E</text>
<text x="-0.7" y="-2.15">(e)Rank-mean</text>
</g>
<rect x="159.0" y="361.3" width="25.7" height="8.3" fill="#331900"/>
<rect x="184.7" y="361.3" width="25.7" height="8.3" fill="#662f00"/>
<rect x="210.4" y="361.3" width="25.7" height="8.3" fill="#996035"/>
<rect x="236.1" y="361.3" width="25.7" height="8.3" fill="#d8af97"/>
<rect x="261.8" y="361.3" width="25.7" height="8.3" fill="#f2dacd"/>
<rect x="287.5" y="361.3" width="25.7" height="8.3" fill="#ccfdff"/>
<rect x="313.2" y="361.3" width="25.7" height="8.3" fill="#99f8ff"/>
<rect x="338.9" y="361.3" width="25.7" height="8.3" fill="#32e3ff"/>
<rect x="364.6" y="361.3" width="25.7" height="8.3" fill="#00a9cc"/>
<rect x="390.3" y="361.3" width="25.7" height="8.3" fill="#007a99"/>
<rect x="159" y="361.3" width="257.0" height="8.3" fill="none" stroke="#000" stroke-width="0.8"/>
<line x1="184.7" y1="361.3" x2="184.7" y2="369.6" stroke="#000" stroke-width="0.6"/>
<line x1="210.4" y1="361.3" x2="210.4" y2="369.6" stroke="#000" stroke-width="0.6"/>
<line x1="236.1" y1="361.3" x2="236.1" y2="369.6" stroke="#000" stroke-width="0.6"/>
<line x1="261.8" y1="361.3" x2="261.8" y2="369.6" stroke="#000" stroke-width="0.6"/>
<line x1="287.5" y1="361.3" x2="287.5" y2="369.6" stroke="#000" stroke-width="0.6"/>
<line x1="313.2" y1="361.3" x2="313.2" y2="369.6" stroke="#000" stroke-width="0.6"/>
<line x1="338.9" y1="361.3" x2="338.9" y2="369.6" stroke="#000" stroke-width="0.6"/>
<line x1="364.6" y1="361.3" x2="364.6" y2="369.6" stroke="#000" stroke-width="0.6"/>
<line x1="390.3" y1="361.3" x2="390.3" y2="369.6" stroke="#000" stroke-width="0.6"/>
<text x="184.7" y="379.9" text-anchor="middle" style="font-size:10.5px">-0.3</text>
<text x="210.4" y="379.9" text-anchor="middle" style="font-size:10.5px">-0.2</text>
<text x="236.1" y="379.9" text-anchor="middle" style="font-size:10.5px">-0.15</text>
<text x="261.8" y="379.9" text-anchor="middle" style="font-size:10.5px">-0.1</text>
<text x="287.5" y="379.9" text-anchor="middle" style="font-size:10.5px">0</text>
<text x="313.2" y="379.9" text-anchor="middle" style="font-size:10.5px">0.1</text>
<text x="338.9" y="379.9" text-anchor="middle" style="font-size:10.5px">0.2</text>
<text x="364.6" y="379.9" text-anchor="middle" style="font-size:10.5px">0.3</text>
<text x="390.3" y="379.9" text-anchor="middle" style="font-size:10.5px">0.5</text>
<path d="M423.3,191.0V336.5H562V332" fill="none" stroke="#000" stroke-width="1.3"/>
<path d="M423.3,331.4h2.5 M423.3,325.8h4.5 M423.3,320.2h2.5 M423.3,314.6h2.5 M423.3,309.0h2.5 M423.3,303.4h4.5 M423.3,297.8h2.5 M423.3,292.2h2.5 M423.3,286.6h2.5 M423.3,281.0h4.5 M423.3,275.4h2.5 M423.3,269.8h2.5 M423.3,264.2h2.5 M423.3,258.6h4.5 M423.3,253.0h2.5 M423.3,247.4h2.5 M423.3,241.8h2.5 M423.3,236.2h4.5 M423.3,230.6h2.5 M423.3,225.0h2.5 M423.3,219.4h2.5 M423.3,213.8h4.5 M423.3,208.2h2.5 M423.3,202.6h2.5 M423.3,197.0h2.5 M423.3,191.4h4.5" stroke="#000" stroke-width="1.1"/>
<text x="414.9" y="195.5" text-anchor="end">1.0</text>
<text x="414.9" y="217.9" text-anchor="end">0.8</text>
<text x="414.9" y="240.3" text-anchor="end">0.6</text>
<text x="414.9" y="262.7" text-anchor="end">0.4</text>
<text x="414.9" y="285.1" text-anchor="end">0.2</text>
<text x="414.9" y="307.5" text-anchor="end">0.0</text>
<text x="414.9" y="329.9" text-anchor="end">-0.2</text>
<path d="M469.0,336.5V332 M515.5,336.5V332" stroke="#000" stroke-width="1.1"/>
<text x="468.9" y="354.2" text-anchor="middle">NC</text>
<text x="516" y="354.2" text-anchor="middle">SC</text>
<text transform="translate(393.2,266.2) rotate(-90)" text-anchor="middle" style="font-size:11.6px">ΔP [mm/day]</text>
<text x="422.5" y="188.6">(f)</text>
<path d="M435.6,200.3 l3.35,-6.2 l3.35,6.2 z" fill="none" stroke="#000" stroke-width="0.9"/>
<text x="445" y="200.9" style="font-size:9.6px">AM</text>
<rect x="435.7" y="205.3" width="6.4" height="6" fill="none" stroke="#000" stroke-width="0.9"/>
<text x="445" y="211.3" style="font-size:9.6px">Rank-mean</text>
<rect x="455.7" y="275.8" width="27.8" height="22.0" fill="none" stroke="#000" stroke-width="1.6"/>
<line x1="455.7" x2="483.5" y1="287.0" y2="287.0" stroke="#000" stroke-width="1.6"/>
<line x1="469.0" x2="469.0" y1="264.3" y2="275.8" stroke="#000" stroke-width="1.4" stroke-dasharray="6,3.2"/>
<line x1="469.0" x2="469.0" y1="297.8" y2="311.0" stroke="#000" stroke-width="1.4" stroke-dasharray="6,3.2"/>
<line x1="465.0" x2="473.0" y1="264.3" y2="264.3" stroke="#000" stroke-width="1.5"/>
<line x1="465.0" x2="473.0" y1="311.0" y2="311.0" stroke="#000" stroke-width="1.5"/>
<rect x="501.7" y="268.6" width="27.8" height="26.7" fill="none" stroke="#000" stroke-width="1.6"/>
<line x1="501.7" x2="529.5" y1="282.8" y2="282.8" stroke="#000" stroke-width="1.6"/>
<line x1="515.5" x2="515.5" y1="220.7" y2="268.6" stroke="#000" stroke-width="1.4" stroke-dasharray="6,3.2"/>
<line x1="515.5" x2="515.5" y1="295.3" y2="320.0" stroke="#000" stroke-width="1.4" stroke-dasharray="6,3.2"/>
<line x1="511.5" x2="519.5" y1="220.7" y2="220.7" stroke="#000" stroke-width="1.5"/>
<line x1="511.5" x2="519.5" y1="320.0" y2="320.0" stroke="#000" stroke-width="1.5"/>
<rect x="465.9" y="282.3" width="6.4" height="6.4" fill="none" stroke="#666" stroke-width="0.8"/>
<path d="M465.8,288.3 l3.3,-6 l3.3,6 z" fill="none" stroke="#666" stroke-width="0.8"/>
<rect x="512.3" y="277.6" width="6.4" height="6.4" fill="none" stroke="#666" stroke-width="0.8"/>
<path d="M512.2,283.6 l3.3,-6 l3.3,6 z" fill="none" stroke="#666" stroke-width="0.8"/>
</svg>
</body></html>
